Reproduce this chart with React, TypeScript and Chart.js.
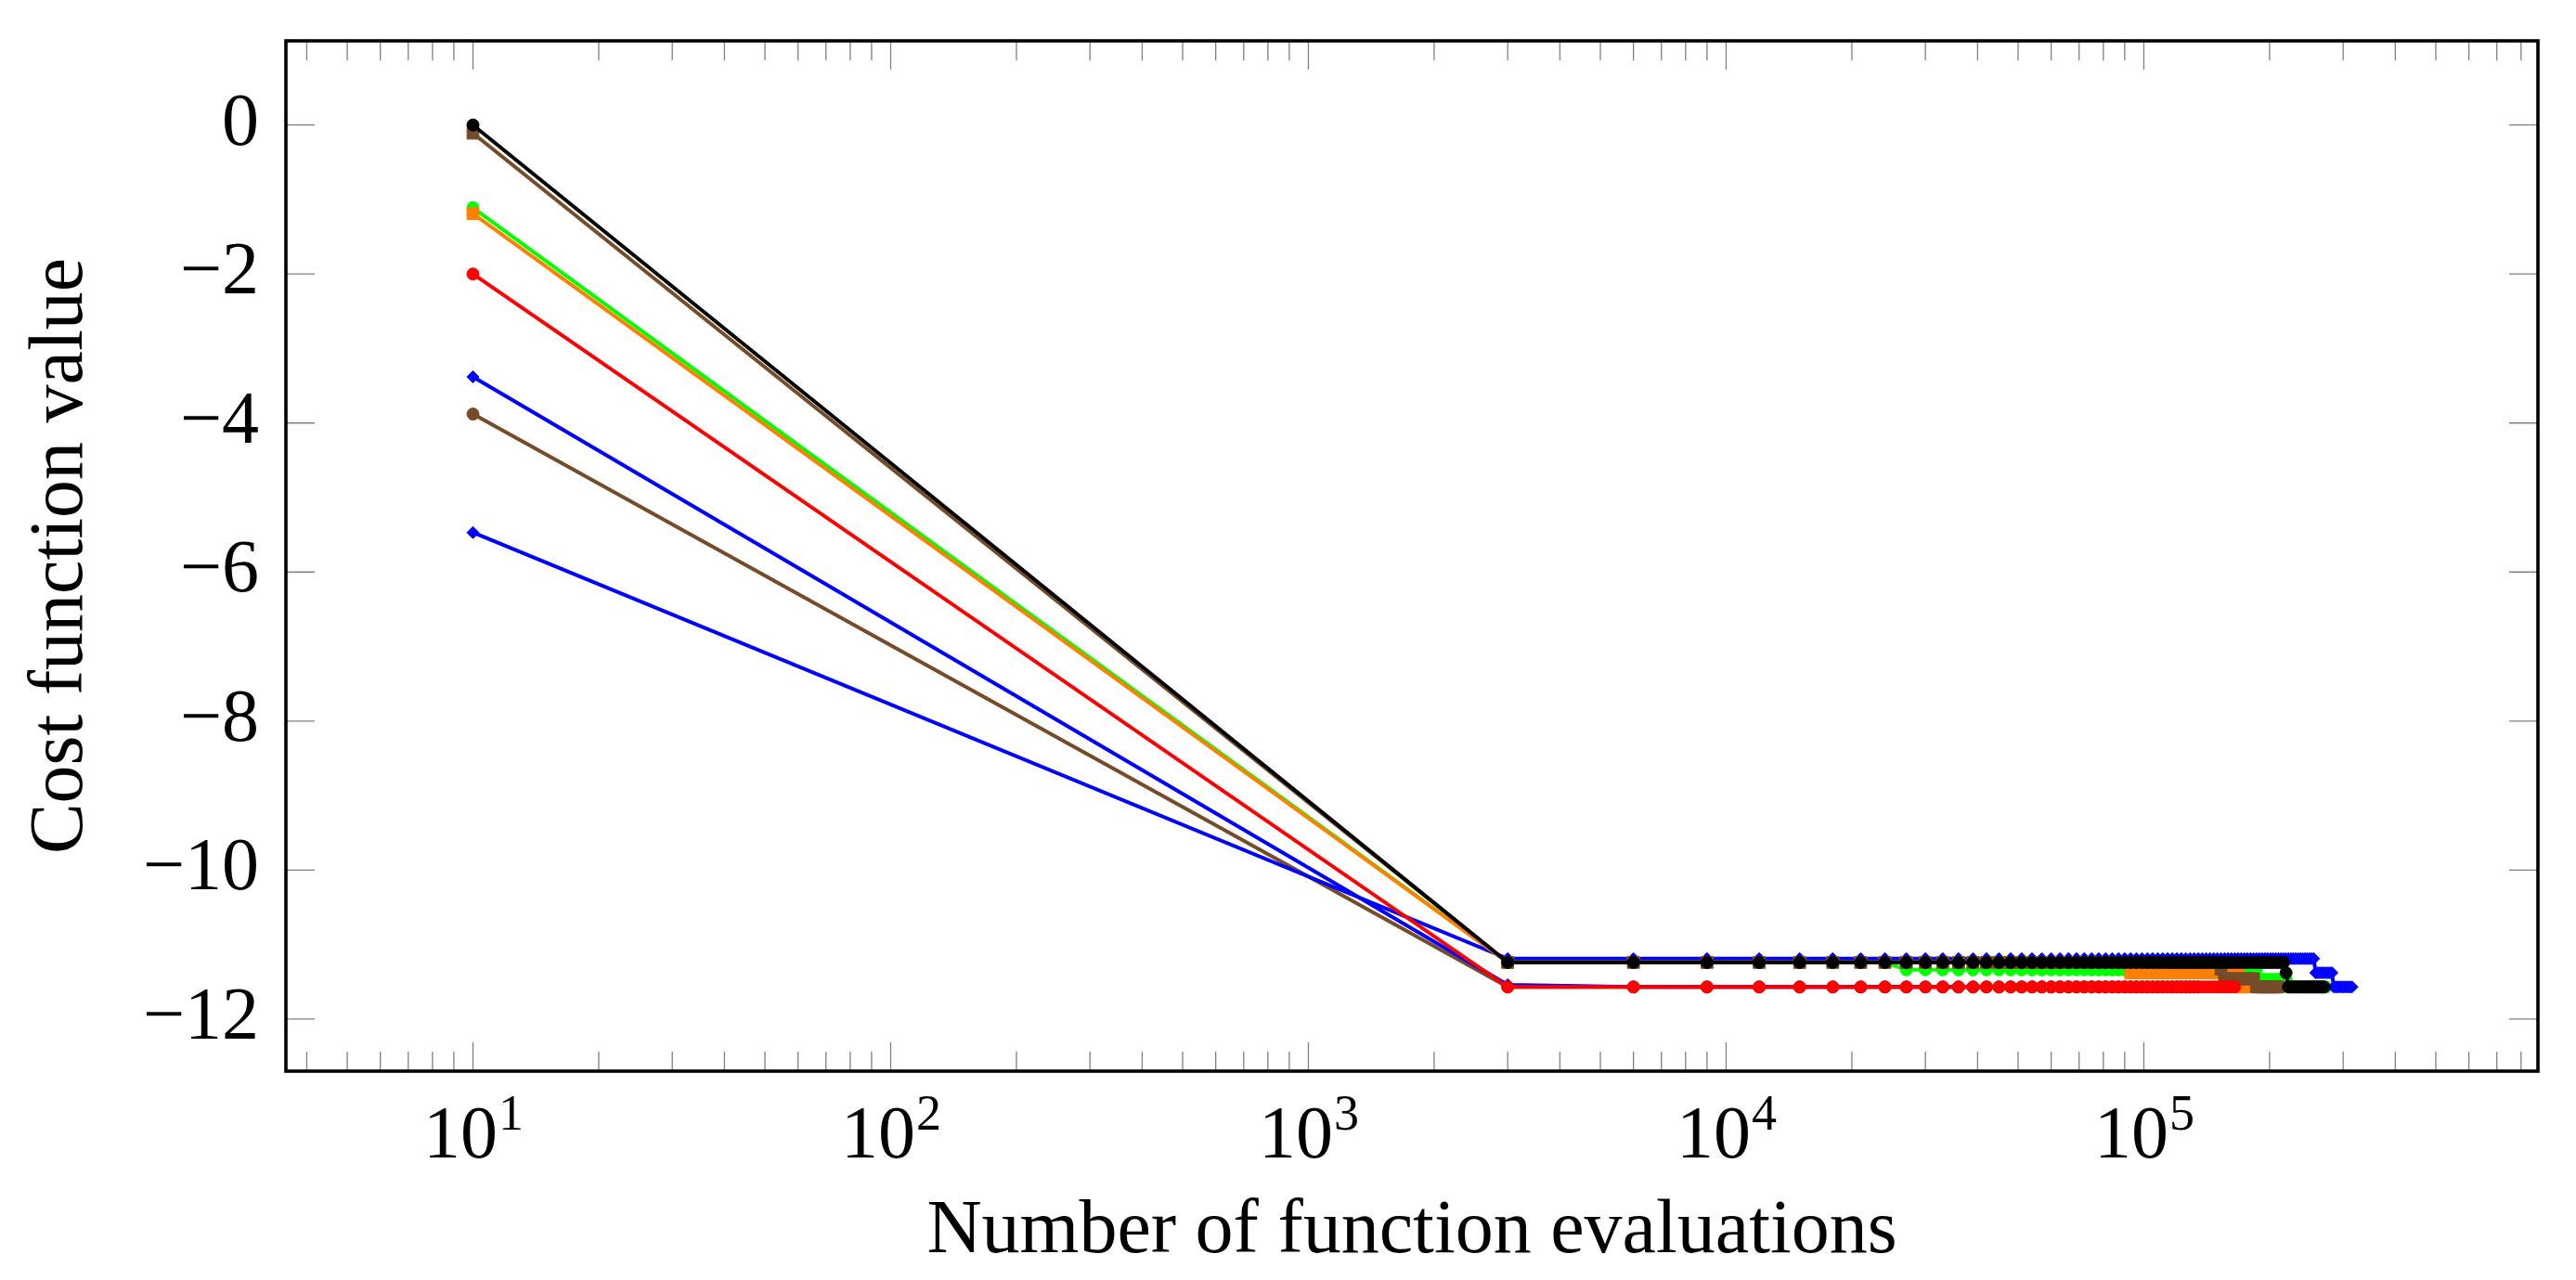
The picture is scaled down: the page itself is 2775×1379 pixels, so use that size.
import React, { useEffect, useRef } from 'react';
import { Chart, registerables } from 'chart.js';

Chart.register(...registerables);

// ---------- data ----------
const xStart = 10;          // first evaluation count
const evalStep = 3000;      // evaluations per iteration
const xTickExponents = [1, 2, 3, 4, 5];
const yTickValues = [0, -2, -4, -6, -8, -10, -12];

// each series: value at x = 10, then runs of [value, number of iterations]
const blackStart = 0;
const blackRuns: [number, number][] = [[-11.24, 72], [-11.38, 1], [-11.57, 17]];
const redStart = -2.0;
const redRuns: [number, number][] = [[-11.57, 55]];
const brownSqStart = -0.11;
const brownSqRuns: [number, number][] = [[-11.24, 50], [-11.33, 1], [-11.46, 10], [-11.57, 9]];
const orangeStart = -1.19;
const orangeRuns: [number, number][] = [[-11.24, 30], [-11.38, 26], [-11.57, 2]];
const blueStart = -5.47;
const blueRuns: [number, number][] = [[-11.19, 85], [-11.38, 9], [-11.57, 11]];
const greenStart = -1.11;
const greenRuns: [number, number][] = [[-11.24, 8], [-11.34, 54], [-11.47, 11], [-11.57, 18]];
const blue2Start = -3.38;
const blue2Runs: [number, number][] = [[-11.54, 1], [-11.57, 44]];
const brownCircStart = -3.88;
const brownCircRuns: [number, number][] = [[-11.57, 45]];

const FONT = '"Liberation Serif", "Times New Roman", serif';
const BROWN = '#764C28';

function buildPoints(y0: number, runs: [number, number][]) {
  const pts: { x: number; y: number }[] = [{ x: xStart, y: y0 }];
  let k = 1;
  for (const [v, n] of runs) {
    for (let i = 0; i < n; i++) {
      pts.push({ x: evalStep * k, y: v });
      k++;
    }
  }
  return pts;
}

function ds(label: string, color: string, style: string, radius: number, y0: number, runs: [number, number][]) {
  return {
    label,
    data: buildPoints(y0, runs),
    borderColor: color,
    backgroundColor: color,
    borderWidth: 4,
    pointStyle: style,
    pointRadius: radius,
    pointBackgroundColor: color,
    pointBorderColor: color,
    pointBorderWidth: 1,
    tension: 0,
    fill: false,
  };
}

const frame = {
  id: 'frameTicks',
  afterDatasetsDraw(chart: any) {
    const { ctx, chartArea: a, scales } = chart;
    const xs = scales.x;
    const ys = scales.y;
    ctx.save();
    ctx.strokeStyle = '#808080';
    ctx.lineWidth = 1.3;
    ctx.beginPath();
    for (let e = 0; e <= 5; e++) {
      for (let m = 1; m <= 9; m++) {
        const v = m * Math.pow(10, e);
        const px = xs.getPixelForValue(v);
        if (px <= a.left + 2 || px >= a.right - 2) continue;
        const len = m === 1 ? 31 : 21;
        ctx.moveTo(px, a.bottom);
        ctx.lineTo(px, a.bottom - len);
        ctx.moveTo(px, a.top);
        ctx.lineTo(px, a.top + len);
      }
    }
    for (const v of yTickValues) {
      const py = ys.getPixelForValue(v);
      ctx.moveTo(a.left, py);
      ctx.lineTo(a.left + 31, py);
      ctx.moveTo(a.right, py);
      ctx.lineTo(a.right - 31, py);
    }
    ctx.stroke();
    ctx.strokeStyle = '#000';
    ctx.lineWidth = 3.6;
    ctx.strokeRect(a.left, a.top, a.right - a.left, a.bottom - a.top);

    ctx.fillStyle = '#000';
    ctx.textAlign = 'left';
    ctx.textBaseline = 'alphabetic';
    for (const e of xTickExponents) {
      const px = xs.getPixelForValue(Math.pow(10, e));
      ctx.font = `80px ${FONT}`;
      const w1 = ctx.measureText('10').width;
      ctx.font = `54px ${FONT}`;
      const w2 = ctx.measureText(String(e)).width;
      const x0 = px - (w1 + w2) / 2;
      ctx.font = `80px ${FONT}`;
      ctx.fillText('10', x0, a.bottom + 93);
      ctx.font = `54px ${FONT}`;
      ctx.fillText(String(e), x0 + w1 + 1, a.bottom + 63);
    }
    ctx.restore();
  },
};

export default function App() {
  const ref = useRef<HTMLCanvasElement | null>(null);
  useEffect(() => {
    document.body.style.margin = '0';
    const canvas = ref.current;
    if (!canvas) return;
    const chart = new Chart(canvas, {
      type: 'line',
      data: {
        datasets: [
          ds('black', '#000000', 'circle', 6.5, blackStart, blackRuns),
          ds('red', '#FF0000', 'circle', 6.5, redStart, redRuns),
          ds('brown square', BROWN, 'rect', 9, brownSqStart, brownSqRuns),
          ds('orange', '#FF8000', 'rect', 9, orangeStart, orangeRuns),
          ds('blue', '#0000FF', 'rectRot', 6.5, blueStart, blueRuns),
          ds('green', '#00FF00', 'circle', 6.5, greenStart, greenRuns),
          ds('blue 2', '#0000FF', 'rectRot', 6.5, blue2Start, blue2Runs),
          ds('brown circle', BROWN, 'circle', 6.5, brownCircStart, brownCircRuns),
        ] as any,
      },
      options: {
        animation: false,
        responsive: false,
        devicePixelRatio: 1,
        layout: { padding: { top: 44, right: 41, left: 0, bottom: 0 } },
        plugins: { legend: { display: false }, tooltip: { enabled: false } },
        scales: {
          x: {
            type: 'logarithmic',
            min: 3.566,
            max: 8.78e5,
            afterFit: (s: any) => {
              s.height = 225;
              s.paddingLeft = 0;
              s.paddingRight = 0;
              s.paddingTop = 0;
              s.paddingBottom = 0;
            },
            grid: { display: false, drawTicks: false },
            border: { display: false },
            ticks: { display: false },
            title: {
              display: true,
              text: 'Number of function evaluations',
              color: '#000',
              font: { family: FONT, size: 82, lineHeight: 1.2 },
              padding: { top: 0, bottom: 2 },
            },
          },
          y: {
            type: 'linear',
            min: -12.7,
            max: 1.13,
            afterFit: (s: any) => {
              s.width = 308;
              s.paddingTop = 0;
              s.paddingBottom = 0;
              s.paddingLeft = 0;
              s.paddingRight = 0;
            },
            grid: { display: false, drawTicks: false },
            border: { display: false },
            ticks: {
              stepSize: 2,
              includeBounds: false,
              padding: 29,
              color: '#000',
              font: { family: FONT, size: 80 },
              callback: (v: any) => (Number(v) < 0 ? '\u2212' + Math.abs(Number(v)) : String(v)),
            },
            title: {
              display: true,
              text: 'Cost function value',
              color: '#000',
              font: { family: FONT, size: 82, lineHeight: 1.2 },
              padding: { top: 17, bottom: 0 },
            },
          },
        },
      } as any,
      plugins: [frame],
    });
    return () => chart.destroy();
  }, []);
  return (
    <canvas
      ref={ref}
      width={2775}
      height={1379}
      style={{ display: 'block', width: '2775px', height: '1379px' }}
    />
  );
}
